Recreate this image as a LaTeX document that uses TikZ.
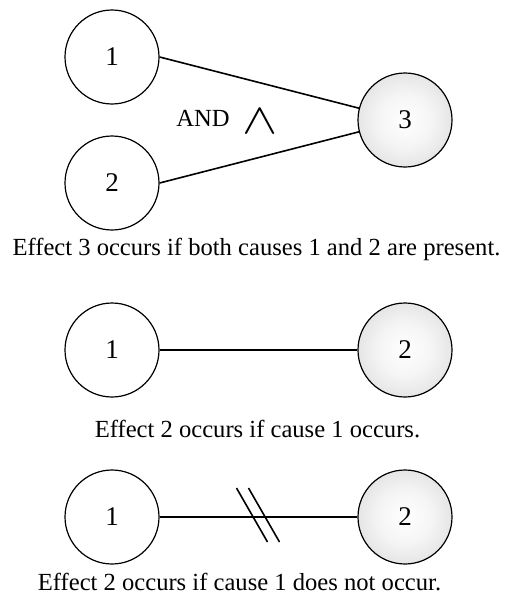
\documentclass[tikz,border=0pt]{standalone}
\usepackage{fontspec}
\setmainfont{Liberation Serif}
\usepackage{tikz}
\usetikzlibrary{positioning, calc}

\pgfdeclareradialshading{effectshade}{\pgfpoint{0bp}{0bp}}{color(0bp)=(white); color(14bp)=(white!96!black); color(40bp)=(black!18); color(50bp)=(black!30); color(100bp)=(black!30)}

\begin{document}
\begin{tikzpicture}[
			x=0.5pt, y=-0.5pt,
			cause/.style={circle, draw, line width=0.6pt, minimum size=47pt, inner sep=0pt, fill=white, font=\fontsize{13.5}{15}\selectfont},
			effect/.style={cause, shading=effectshade},
			link/.style={line width=0.8pt},
			caption/.style={anchor=base, inner sep=0pt},
			font=\fontsize{12.3}{14}\selectfont
			]
			\useasboundingbox (0,0) rectangle (507,594);
			
			% AND: 1 and 2 give 3
			\node[cause] (and1) at (112,57) {1};
			\node[cause] (and2) at (112,183) {2};
			\node[effect] (and3) at (405,120) {3};
			\draw[link] (and1.east) -- (and3);
			\draw[link] (and2.east) -- (and3);
			\node[anchor=base, inner sep=0pt] (andtxt) at (203,126) {AND};
			\node[inner sep=0pt] (andsym) at (260.5,121.5) {\scalebox{2.2}[1.8]{$\wedge$}};
			\node[caption] (andcap) at (256.5,255) {Effect 3 occurs if both causes 1 and 2 are present.};
			
			% identity
			\node[cause] (id1) at (112,350) {1};
			\node[effect] (id2) at (405,350) {2};
			\draw[link] (id1) -- (id2);
			\node[caption] (idcap) at (257.5,437) {Effect 2 occurs if cause 1 occurs.};
			
			% NOT
			\node[cause] (not1) at (112,517) {1};
			\node[effect] (not2) at (405,517) {2};
			\draw[link] (not1) -- (not2);
			\coordinate (notmid) at ($(not1.east)!0.5!(not2.west)$);
			\draw[link] ($(notmid)+(-22,-29)$) -- ($(notmid)+(9,25)$);
			\draw[link] ($(notmid)+(-10,-29)$) -- ($(notmid)+(21,25)$);
			\node[caption] (notcap) at (239.5,590) {Effect 2 occurs if cause 1 does not occur.};
			
		\end{tikzpicture}
\end{document}
